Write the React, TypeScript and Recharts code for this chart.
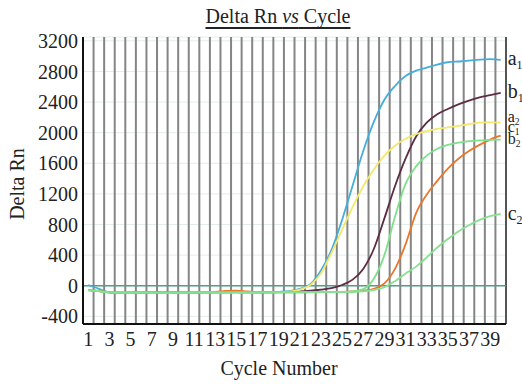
import React from 'react';
import { LineChart, Line, XAxis, YAxis, CartesianGrid, ReferenceLine, Label } from 'recharts';

const cycles = [1, 2, 3, 4, 5, 6, 7, 8, 9, 10, 11, 12, 13, 14, 15, 16, 17, 18, 19, 20,
  21, 22, 23, 24, 25, 26, 27, 28, 29, 30, 31, 32, 33, 34, 35, 36, 37, 38, 39, 40];

const xTicks = [1, 3, 5, 7, 9, 11, 13, 15, 17, 19, 21, 23, 25, 27, 29, 31, 33, 35, 37, 39];
const yTicks = [-400, 0, 400, 800, 1200, 1600, 2000, 2400, 2800, 3200];

const a1 = [10, -40, -85, -90, -92, -90, -88, -90, -92, -90, -88, -90, -90, -88, -86, -88, -86, -84, -80, -70,
  -40, 20, 200, 470, 860, 1310, 1760, 2140, 2430, 2610, 2740, 2810, 2850, 2890, 2920, 2930, 2940, 2955, 2960, 2950];
const b1 = [-55, -70, -88, -92, -90, -90, -88, -90, -92, -90, -90, -88, -90, -86, -84, -88, -86, -86, -84, -80,
  -75, -65, -50, -30, 10, 80, 220, 480, 880, 1300, 1660, 1950, 2130, 2240, 2310, 2370, 2420, 2460, 2490, 2520];
const a2 = [-60, -70, -90, -92, -92, -90, -90, -92, -94, -92, -90, -90, -92, -90, -88, -90, -88, -86, -84, -78,
  -50, 10, 160, 430, 730, 1030, 1300, 1520, 1700, 1830, 1920, 1980, 2020, 2050, 2070, 2090, 2110, 2130, 2135, 2130];
const c1 = [-60, -68, -86, -90, -88, -86, -84, -86, -88, -88, -86, -84, -80, -66, -64, -74, -84, -86, -86, -86,
  -86, -84, -84, -82, -80, -75, -65, -40, 30, 220, 540, 950, 1190, 1370, 1530, 1660, 1760, 1840, 1910, 1960];
const b2 = [-58, -70, -88, -90, -90, -88, -88, -90, -90, -90, -88, -88, -88, -86, -86, -86, -86, -86, -86, -84,
  -84, -84, -82, -82, -80, -75, -45, 90, 400, 900, 1330, 1560, 1700, 1790, 1840, 1870, 1890, 1900, 1905, 1910];
const c2 = [-58, -70, -88, -90, -90, -90, -88, -90, -90, -90, -88, -88, -88, -88, -86, -86, -86, -86, -86, -86,
  -86, -86, -84, -84, -84, -82, -75, -55, -20, 60, 160, 250, 370, 500, 610, 710, 790, 860, 910, 940];

const rows = cycles.map((c, i) => ({ cycle: c, a1: a1[i], b1: b1[i], a2: a2[i], c1: c1[i], b2: b2[i], c2: c2[i] }));

// band edges between cycles, drawn as the grey vertical rules
const edges = cycles.map((c) => c + 0.5);

const series = [
  { key: 'a1', letter: 'a', sub: '1', color: '#45aedb', dy: 5, size: 20 },
  { key: 'b1', letter: 'b', sub: '1', color: '#5c2c45', dy: 5, size: 20 },
  { key: 'a2', letter: 'a', sub: '2', color: '#f3e76c', dy: -1, size: 16 },
  { key: 'c1', letter: 'c', sub: '1', color: '#e8772e', dy: -4, size: 16 },
  { key: 'b2', letter: 'b', sub: '2', color: '#7fe08b', dy: 4, size: 16 },
  { key: 'c2', letter: 'c', sub: '2', color: '#86e290', dy: 6, size: 20 },
];

const font = 'Liberation Serif';

function endLabel(s: typeof series[number]) {
  return (props: any) => {
    if (props.index !== cycles.length - 1) return null;
    return (
      <text x={props.x + 7} y={props.y + s.dy} fontFamily={font} fontSize={s.size} fill="#222">
        {s.letter}
        <tspan fontSize={s.size * 0.6} dy={s.size * 0.2}>{s.sub}</tspan>
      </text>
    );
  };
}

export default function App() {
  return (
    <div style={{ position: 'absolute', left: 0, top: 0, width: 522, height: 384, fontFamily: font, background: '#fff' }}>
      <div
        style={{
          position: 'absolute', left: 178, top: 5, width: 200, textAlign: 'center',
          fontSize: 20, color: '#222', textDecoration: 'underline', textUnderlineOffset: 4,
        }}
      >
        Delta Rn <i>vs</i> Cycle
      </div>
      <LineChart width={522} height={384} data={rows} margin={{ top: 37, right: 16, left: 0, bottom: 0 }}>
        <CartesianGrid vertical={false} stroke="#e3eee8" />
        <XAxis
          dataKey="cycle"
          type="number"
          domain={[0.5, 40.5]}
          ticks={xTicks}
          interval={0}
          tickLine={false}
          tickSize={0}
          tickMargin={8}
          height={60}
          axisLine={{ stroke: '#111', strokeWidth: 2 }}
          tick={{ fill: '#222', fontSize: 20, fontFamily: font }}
        >
          <Label
            content={() => (
              <text x={279} y={375} textAnchor="middle" fontFamily={font} fontSize={20} fill="#222">
                Cycle Number
              </text>
            )}
          />
        </XAxis>
        <YAxis
          type="number"
          domain={[-500, 3250]}
          ticks={yTicks}
          interval={0}
          width={83}
          tickLine={false}
          tickSize={0}
          tickMargin={5}
          axisLine={{ stroke: '#111', strokeWidth: 2 }}
          tick={{ fill: '#222', fontSize: 20, fontFamily: font }}
        >
          <Label
            content={() => (
              <text x={24} y={184} transform="rotate(-90 24 184)" textAnchor="middle" fontFamily={font} fontSize={20} fill="#222">
                Delta Rn
              </text>
            )}
          />
        </YAxis>
        {edges.map((e) => (
          <ReferenceLine
            key={e}
            x={e}
            stroke={e === 40.5 ? '#555' : '#858585'}
            strokeWidth={2}
          />
        ))}
        <ReferenceLine y={0} stroke="#4f9f85" strokeWidth={1.5} />
        {series.map((s) => (
          <Line
            key={s.key}
            dataKey={s.key}
            type="monotone"
            stroke={s.color}
            strokeWidth={1.8}
            dot={false}
            isAnimationActive={false}
            label={endLabel(s)}
          />
        ))}
      </LineChart>
    </div>
  );
}
